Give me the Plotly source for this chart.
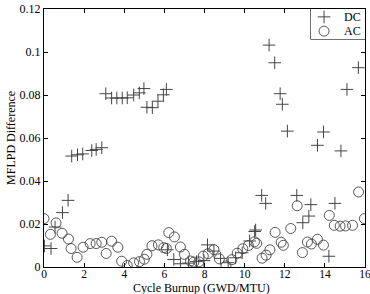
import plotly.graph_objects as go

dc_x = [0.02, 0.35, 0.55, 0.92, 1.2, 1.38, 1.67, 1.93, 2.38, 2.6, 2.88,
        3.08, 3.37, 3.63, 3.9, 4.15, 4.47, 4.75, 4.98,
        5.13, 5.4, 5.68, 5.95, 6.1,
        6.15, 6.47, 6.8, 7.2, 7.6, 7.97, 8.15, 8.47, 8.8, 9.18, 9.55, 9.88,
        10.25, 10.5, 10.55, 10.85, 11.05, 11.22, 11.5, 11.77, 11.88, 12.13,
        12.6, 12.9, 13.2, 13.3, 13.63, 13.93, 14.2, 14.5, 14.8, 15.1, 15.67]
dc_y = [0.0098, 0.0086, 0.0186, 0.0253, 0.031, 0.0516, 0.0522, 0.0526, 0.0542, 0.0547, 0.0555,
        0.0806, 0.0786, 0.0786, 0.0786, 0.0787, 0.080, 0.081, 0.083,
        0.0743, 0.0741, 0.0771, 0.0801, 0.0826,
        0.008, 0.0035, 0.0015, 0.0018, 0.0025, 0.003, 0.0103, 0.0074, 0.004, 0.002, 0.0043, 0.0066,
        0.0121, 0.0165, 0.0172, 0.0333, 0.0296, 0.1032, 0.095, 0.0806, 0.0757, 0.0632,
        0.0333, 0.0206, 0.0237, 0.029, 0.0566, 0.0628, 0.005, 0.0296, 0.054, 0.0826, 0.0927]

ac_x = [0.0, 0.32, 0.6, 0.9, 1.22, 1.35, 1.65, 1.95, 2.3, 2.6, 2.88, 3.1, 3.37, 3.68,
        3.87, 4.15, 4.47, 4.76, 5.0, 5.13, 5.38, 5.7, 5.97, 6.1, 6.22, 6.5, 6.8, 7.0,
        7.3, 7.47, 7.72, 7.94, 8.18, 8.47, 8.74, 9.07, 9.36, 9.63, 9.91, 10.19, 10.49,
        10.6, 10.87, 11.07, 11.26, 11.52, 11.82, 11.93, 12.3, 12.62, 12.88, 13.13, 13.33,
        13.63, 13.93, 14.22, 14.47, 14.76, 15.03, 15.38, 15.68, 15.97]
ac_y = [0.0225, 0.0152, 0.0205, 0.0157, 0.013, 0.0086, 0.0045, 0.0092, 0.0109, 0.0109,
        0.0115, 0.0063, 0.012, 0.0092, 0.0027, 0.0007, 0.0019, 0.0025, 0.0036, 0.0059,
        0.0099, 0.0103, 0.009, 0.0086, 0.016, 0.014, 0.0093, 0.0059, 0.0028, 0.0023,
        0.0024, 0.0051, 0.0062, 0.0081, 0.0038, 0.0005, 0.0034, 0.0064, 0.0085, 0.010,
        0.0117, 0.011, 0.0041, 0.0055, 0.008, 0.0161, 0.0115, 0.0101, 0.0179, 0.0285,
        0.0067, 0.0116, 0.0107, 0.0129, 0.0102, 0.024, 0.0194, 0.019, 0.0191, 0.0194,
        0.0349, 0.0225]

series_names = ["DC", "AC"]
x_ticks = [0, 2, 4, 6, 8, 10, 12, 14, 16]
x_tick_labels = ["0", "2", "4", "6", "8", "10", "12", "14", "16"]
y_ticks = [0, 0.02, 0.04, 0.06, 0.08, 0.1, 0.12]
y_tick_labels = ["0", "0.02", "0.04", "0.06", "0.08", "0.1", "0.12"]
x_title = "Cycle Burnup (GWD/MTU)"
y_title = "MFLPD Difference"

font = "Liberation Serif"
col = "#444444"
dc_marker = dict(symbol="cross-thin-open", size=9, color=col, line=dict(width=1, color=col))
ac_marker = dict(symbol="circle-open", size=10, color=col, line=dict(width=0.9, color=col))

fig = go.Figure()
fig.add_trace(go.Scatter(x=dc_x, y=dc_y, mode="markers", name=series_names[0],
                         marker=dc_marker, showlegend=False))
fig.add_trace(go.Scatter(x=ac_x, y=ac_y, mode="markers", name=series_names[1],
                         marker=ac_marker, showlegend=False))

# compact legend: sample markers on a small helper axis, box + labels
leg_x0, leg_x1, leg_y0, leg_y1 = 0.831, 1.0, 0.8826, 1.0
fig.add_trace(go.Scatter(x=[0.245], y=[0.74], mode="markers", marker=dc_marker,
                         xaxis="x2", yaxis="y2", showlegend=False, hoverinfo="skip"))
fig.add_trace(go.Scatter(x=[0.245], y=[0.27], mode="markers", marker=ac_marker,
                         xaxis="x2", yaxis="y2", showlegend=False, hoverinfo="skip"))
fig.add_shape(type="rect", xref="paper", yref="paper", x0=leg_x0, x1=leg_x1,
              y0=leg_y0, y1=leg_y1, line=dict(color="black", width=1),
              fillcolor="white", layer="below")
for name, yy in zip(series_names, [0.74, 0.27]):
    fig.add_annotation(text=name, xref="x2", yref="y2", x=0.58, y=yy,
                       xanchor="left", yanchor="middle", showarrow=False,
                       font=dict(family=font, size=12, color="black"))

axis_common = dict(showline=True, linecolor="black", linewidth=1, mirror="ticks",
                   ticks="inside", ticklen=4, tickcolor="black", showgrid=False,
                   zeroline=False, automargin=False, ticklabeloverflow="allow",
                   tickfont=dict(family=font, size=12, color="black"))

fig.add_annotation(text=x_title, xref="paper", yref="paper", x=0.49, y=-0.082,
                   xanchor="center", yanchor="middle", showarrow=False, borderpad=0,
                   font=dict(family=font, size=12, color="black"))
fig.add_annotation(text=y_title, xref="paper", yref="paper", x=-0.103, y=0.5,
                   xanchor="center", yanchor="middle", showarrow=False, textangle=-90,
                   font=dict(family=font, size=12, color="black"))

fig.update_layout(
    width=370, height=294,
    margin=dict(l=44, r=5, t=9, b=27),
    paper_bgcolor="white", plot_bgcolor="white",
    font=dict(family=font, size=12, color="black"),
    showlegend=False,
    xaxis=dict(range=[0, 16], tickvals=x_ticks, ticktext=x_tick_labels,
               ticklabelstandoff=-4,
               **{**axis_common, "tickfont": dict(family=font, size=11.5, color="black")}),
    yaxis=dict(range=[0, 0.12], tickvals=y_ticks, ticktext=y_tick_labels,
               **axis_common),
    xaxis2=dict(domain=[leg_x0, leg_x1], range=[0, 1], anchor="y2", visible=False,
                fixedrange=True),
    yaxis2=dict(domain=[leg_y0, leg_y1], range=[0, 1], anchor="x2", visible=False,
                fixedrange=True),
)

fig.write_html("out.html")
